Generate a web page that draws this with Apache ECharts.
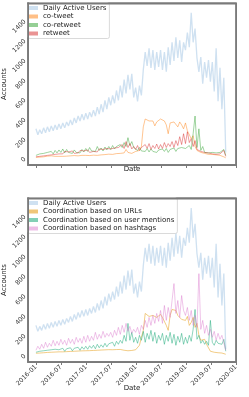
<!DOCTYPE html>
<html>
<head>
<meta charset="utf-8">
<script src="https://cdn.jsdelivr.net/npm/echarts@6/dist/echarts.min.js"></script>
<style>
html,body{margin:0;padding:0;background:#fff;}
#c{width:249px;height:397px;}
</style>
</head>
<body>
<div id="c"></div>
<script>
// Sampling: one value every 14 days starting 2016-01-01
const START_DATE = Date.UTC(2016, 0, 1);
const STEP_DAYS = 14;

const tickLabels = ['2016-01','2016-07','2017-01','2017-07','2018-01','2018-07','2019-01','2019-07','2020-01'];
const yTicks = [0, 200, 400, 600, 800, 1000, 1200, 1400];

const dailyActiveUsers = [
  300,240,290,250,310,260,320,270,330,280,340,290,350,
  300,360,310,370,330,390,340,410,360,430,380,450,390,
  460,400,470,420,490,430,520,450,550,470,590,500,620,
  540,640,560,690,590,740,620,800,660,850,700,860,620,
  720,580,740,640,900,1080,940,1120,920,1100,900,1080,930,
  1100,900,1080,880,1130,950,1180,990,1230,1020,1200,980,1180,
  1100,1280,1130,1480,1180,1320,1020,880,1030,760,980,820,1000,
  780,980,680,1120,580,920,500,820,60
];
const coTweet = [
  10,15,12,20,15,18,22,15,25,18,20,25,20,
  25,20,30,22,28,25,35,28,30,25,35,30,28,
  30,35,28,40,32,38,30,45,35,40,38,50,42,
  45,40,55,48,60,50,70,55,90,60,80,50,60,
  70,55,80,120,320,400,390,380,395,380,330,370,390,
  400,390,380,340,250,360,380,370,360,320,370,340,300,
  360,280,300,200,230,120,80,70,60,55,50,45,40,
  35,40,30,35,25,30,20,15,5
];
const coRetweet = [
  30,20,45,25,50,35,60,40,70,45,80,55,85,
  60,95,55,90,60,80,50,85,60,75,55,90,65,
  100,70,110,75,95,70,120,80,105,75,115,85,120,
  90,130,95,120,100,140,110,160,120,210,130,170,110,
  100,80,110,75,90,70,100,65,95,70,90,60,85,
  65,95,70,100,60,90,75,105,70,100,80,110,90,
  100,80,130,90,250,430,110,300,80,120,60,80,55,
  45,60,40,55,45,60,70,90,30
];
const retweet = [
  15,25,20,30,25,35,30,40,35,50,40,55,45,
  60,45,70,50,65,55,75,50,70,55,80,60,75,
  65,85,60,80,70,90,65,95,75,90,70,100,80,
  95,75,105,85,110,90,140,100,170,110,150,95,120,
  90,130,80,110,95,140,100,150,90,130,100,145,95,
  140,100,160,110,150,120,170,110,180,130,220,140,250,
  150,270,160,200,120,180,90,110,70,90,60,80,55,
  60,45,55,40,50,45,60,80,20
];
const urls = [
  20,25,22,28,25,30,28,32,30,35,32,35,34,
  36,34,38,36,40,38,42,40,44,42,45,44,46,
  45,48,46,50,48,52,50,55,52,56,54,58,56,
  58,55,60,57,62,58,55,50,48,45,50,48,52,
  55,60,100,180,250,420,430,390,410,400,420,380,400,
  410,380,400,300,250,400,460,470,450,400,380,360,380,
  350,390,300,330,380,280,320,200,150,130,160,110,120,
  40,25,30,20,25,20,22,18,10
];
const mentions = [
  30,20,40,25,45,30,50,35,55,35,60,40,55,
  45,70,40,65,50,75,45,70,55,80,50,85,60,
  90,60,95,70,100,65,110,75,105,80,120,85,115,
  95,130,90,140,110,150,120,200,140,320,150,230,130,
  180,120,200,150,240,130,220,160,250,140,230,120,200,
  150,220,110,200,140,230,120,210,100,190,130,220,110,
  180,120,200,140,260,460,160,200,120,150,110,140,100,
  350,130,100,150,120,140,110,160,40
];
const hashtags = [
  50,90,60,110,70,130,80,120,90,150,95,140,100,
  160,110,150,100,170,120,160,110,180,130,170,120,190,
  130,200,140,190,150,230,160,210,170,240,180,220,190,
  230,180,250,200,280,210,300,230,320,240,290,220,260,
  230,280,210,300,260,350,280,380,300,400,320,420,340,
  450,320,500,350,480,380,550,720,420,550,380,600,450,
  400,480,350,450,300,400,280,820,260,350,220,300,200,
  260,180,240,150,220,160,200,190,50
];

const DAY = 86400000;
const dates = dailyActiveUsers.map((_, i) => START_DATE + i * STEP_DAYS * DAY);
const pair = arr => arr.map((v, i) => [dates[i], v]);
const tickTimes = tickLabels.map(s => Date.UTC(+s.slice(0, 4), +s.slice(5, 7) - 1, 1));

const X_MIN = Date.UTC(2015, 10, 4);
const X_MAX = Date.UTC(2020, 0, 1);
const Y_MIN = -68, Y_MAX = 1580;

const FONT = 'DejaVu Sans';
const FRAME = '#7a7a7a';
const fmt = v => { const d = new Date(v); return d.getUTCFullYear() + '-' + String(d.getUTCMonth() + 1).padStart(2, '0'); };

function xAxis(gridIndex, showLabels) {
  return {
    type: 'value', gridIndex, min: X_MIN, max: X_MAX,
    name: 'Date', nameLocation: 'middle', nameGap: showLabels ? 23 : 1, nameMoveOverlap: false,
    nameTextStyle: { fontFamily: FONT, fontSize: 7, color: '#222' },
    axisLine: { show: true, onZero: false, lineStyle: { color: FRAME, width: 1.5 } },
    axisTick: { show: true, customValues: tickTimes, length: 3, lineStyle: { color: FRAME, width: 1 } },
    axisLabel: { show: showLabels, customValues: tickTimes, formatter: fmt, rotate: 45, fontFamily: FONT, fontSize: 6.3, color: '#333', margin: 4, hideOverlap: false },
    splitLine: { show: false }
  };
}
function yAxis(gridIndex) {
  return {
    type: 'value', gridIndex, min: Y_MIN, max: Y_MAX,
    name: 'Accounts', nameLocation: 'middle', nameGap: 20, nameRotate: 90, nameMoveOverlap: false,
    nameTextStyle: { fontFamily: FONT, fontSize: 7, color: '#222' },
    axisLine: { show: true, onZero: false, lineStyle: { color: FRAME, width: 1.5 } },
    axisTick: { show: false },
    axisLabel: { customValues: yTicks, formatter: v => String(v), rotate: 45, fontFamily: FONT, fontSize: 6.3, color: '#333', margin: 3, hideOverlap: false },
    splitLine: { show: false }
  };
}
function line(name, arr, color, xi, w) {
  return {
    name, type: 'line', xAxisIndex: xi, yAxisIndex: xi, data: pair(arr),
    showSymbol: false, symbol: 'none', color,
    lineStyle: { width: w || 0.9, color }, emphasis: { disabled: true }
  };
}
function legend(top, names) {
  return {
    left: 28, top, orient: 'vertical', data: names, icon: 'rect',
    itemWidth: 9, itemHeight: 4, itemGap: 0.5,
    padding: [1, 3, 1, 1],
    backgroundColor: 'rgba(255,255,255,0.85)', borderColor: '#d0d0d0', borderWidth: 0.8, borderRadius: 2,
    textStyle: { fontFamily: FONT, fontSize: 7, color: '#222', lineHeight: 8 },
    selectedMode: false
  };
}
// Frame edges drawn as thin filled bars (decoration only)
function frameBars(top, height) {
  const bar = (x, y, w, h) => ({ type: 'rect', z: 100, zlevel: 0, silent: true, invisible: false,
    shape: { x, y, width: w, height: h }, style: { fill: FRAME, opacity: 1 } });
  return [
    bar(28, top, 209, 1.5),
    bar(28, top + height - 0.5, 209, 1.5),
    bar(27.5, top, 1.5, height + 1),
    bar(235.5, top, 1.5, height + 1)
  ];
}

const C_DAU = 'rgba(160,196,228,0.5)';
const C_COTWEET = 'rgba(255,127,14,0.5)';
const C_CORETWEET = 'rgba(44,160,44,0.5)';
const C_RETWEET = 'rgba(214,39,40,0.5)';
const C_URL = 'rgba(230,160,30,0.6)';
const C_MENT = 'rgba(27,170,120,0.55)';
const C_HASH = 'rgba(215,110,200,0.45)';

const chart = echarts.init(document.getElementById('c'), null, { renderer: 'canvas' });
chart.setOption({
  animation: false,
  backgroundColor: '#fff',
  grid: [
    { left: 28, top: 3, width: 208, height: 162, containLabel: false, outerBoundsMode: 'none', show: true, borderColor: FRAME, borderWidth: 1.5, backgroundColor: 'transparent' },
    { left: 28, top: 198, width: 208, height: 164, containLabel: false, outerBoundsMode: 'none', show: true, borderColor: FRAME, borderWidth: 1.5, backgroundColor: 'transparent' }
  ],
  xAxis: [xAxis(0, false), xAxis(1, true)],
  yAxis: [yAxis(0), yAxis(1)],
  legend: [
    legend(3, ['Daily Active Users', 'co-tweet', 'co-retweet', 'retweet']),
    legend(198, ['Daily Active Users', 'Coordination based on URLs', 'Coordination based on user mentions', 'Coordination based on hashtags'])
  ],
  graphic: { elements: frameBars(3, 162).concat(frameBars(198, 164)) },
  series: [
    line('Daily Active Users', dailyActiveUsers, C_DAU, 0, 1.3),
    line('co-tweet', coTweet, C_COTWEET, 0),
    line('co-retweet', coRetweet, C_CORETWEET, 0),
    line('retweet', retweet, C_RETWEET, 0),
    line('Daily Active Users', dailyActiveUsers, C_DAU, 1, 1.3),
    line('Coordination based on URLs', urls, C_URL, 1),
    line('Coordination based on user mentions', mentions, C_MENT, 1),
    line('Coordination based on hashtags', hashtags, C_HASH, 1)
  ]
});
</script>
</body>
</html>
